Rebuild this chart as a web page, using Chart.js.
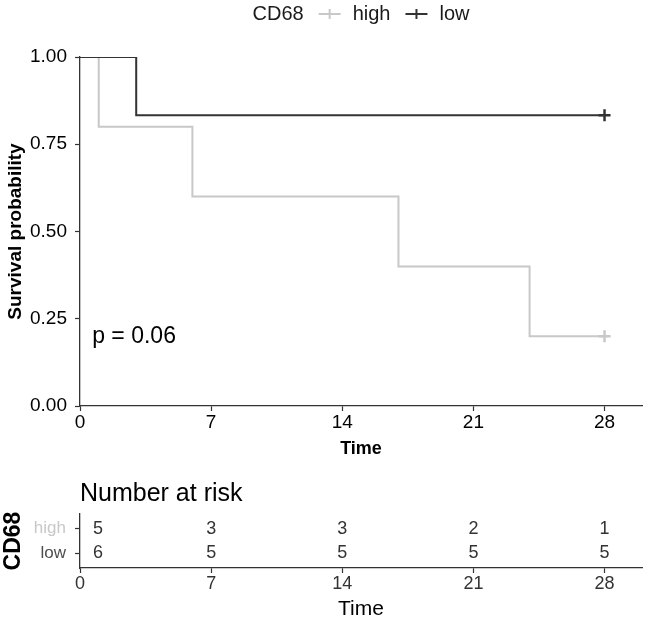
<!DOCTYPE html>
<html>
<head>
<meta charset="utf-8">
<script src="https://cdn.jsdelivr.net/npm/chart.js@4.4.1/dist/chart.umd.min.js"></script>
<style>
  html, body { margin: 0; padding: 0; background: #fff; }
  .box { position: relative; width: 645px; }
  #top { height: 460px; }
  #bottom { height: 165px; }
</style>
</head>
<body>
<div class="box" id="top"><canvas id="km"></canvas></div>
<div class="box" id="bottom"><canvas id="risk"></canvas></div>
<script>
// data
const groups = ['high', 'low'];
const highTimes = [0, 1, 6, 17, 24, 28];
const highSurv = [1, 0.8, 0.6, 0.4, 0.2, 0.2];
const lowTimes = [0, 3, 28];
const lowSurv = [1, 0.833, 0.833];
const censorHighTimes = [28];
const censorHighSurv = [0.2];
const censorLowTimes = [28];
const censorLowSurv = [0.833];
const xTicks = [0, 7, 14, 21, 28];
const yTicks = [0, 0.25, 0.5, 0.75, 1];
const riskTimes = [0, 7, 14, 21, 28];
const riskHigh = [5, 3, 3, 2, 1];
const riskLow = [6, 5, 5, 5, 5];
const pText = 'p = 0.06';

const HIGH_COL = '#c8c8c8';
const LOW_COL = '#333333';
const AXIS_COL = '#333333';
const FAMILY = '"Liberation Sans", Arial, Helvetica, sans-serif';
const X_MAX = 30;

Chart.defaults.font.family = FAMILY;
Chart.defaults.color = '#000';

const pts = (xs, ys) => xs.map((t, i) => ({ x: t, y: ys[i] }));

// legend + p value drawn on the main panel
const kmText = {
  id: 'kmText',
  afterDraw(chart) {
    const ctx = chart.ctx;
    const a = chart.chartArea;
    ctx.save();
    ctx.font = '20px ' + FAMILY;
    ctx.textBaseline = 'middle';
    const items = [
      { text: 'CD68' }, { sym: HIGH_COL }, { text: 'high' }, { sym: LOW_COL }, { text: 'low' }
    ];
    const symW = 22, gapBefore = 15, gapAfter = 12;
    let total = 0;
    items.forEach(it => {
      it.w = it.text ? ctx.measureText(it.text).width : symW;
      total += it.w;
    });
    total += 2 * (gapBefore + gapAfter);
    let x = (a.left + a.right) / 2 - total / 2;
    const y = 14;
    items.forEach(it => {
      if (it.text) {
        ctx.fillStyle = '#1a1a1a';
        ctx.textAlign = 'left';
        ctx.fillText(it.text, x, y);
        x += it.w + gapBefore;
      } else {
        ctx.strokeStyle = it.sym;
        ctx.lineWidth = 2;
        ctx.beginPath();
        ctx.moveTo(x, y); ctx.lineTo(x + symW, y);
        ctx.moveTo(x + symW / 2, y - 5); ctx.lineTo(x + symW / 2, y + 5);
        ctx.stroke();
        x += symW + gapAfter;
      }
    });
    // p value
    const xs = chart.scales.x, ys = chart.scales.y;
    ctx.font = '23px ' + FAMILY;
    ctx.fillStyle = '#000';
    ctx.textAlign = 'left';
    ctx.fillText(pText, xs.getPixelForValue(0.65), ys.getPixelForValue(0.2));
    ctx.restore();
  }
};

new Chart(document.getElementById('km'), {
  type: 'line',
  data: {
    datasets: [
      { label: 'low', data: pts(lowTimes, lowSurv), borderColor: LOW_COL, borderWidth: 2,
        stepped: 'before', pointRadius: 0, fill: false, order: 1 },
      { label: 'high', data: pts(highTimes, highSurv), borderColor: HIGH_COL, borderWidth: 2,
        stepped: 'before', pointRadius: 0, fill: false, order: 2 },
      { label: 'low censor', data: pts(censorLowTimes, censorLowSurv), showLine: false,
        pointStyle: 'cross', pointRadius: 6, pointBorderWidth: 2.5, borderColor: LOW_COL, order: 0 },
      { label: 'high censor', data: pts(censorHighTimes, censorHighSurv), showLine: false,
        pointStyle: 'cross', pointRadius: 6, pointBorderWidth: 2.5, borderColor: HIGH_COL, order: 0 }
    ]
  },
  options: {
    responsive: true,
    maintainAspectRatio: false,
    animation: false,
    layout: { autoPadding: false, padding: { top: 57, right: 3, left: 0, bottom: 0 } },
    plugins: { legend: { display: false }, tooltip: { enabled: false } },
    scales: {
      x: {
        type: 'linear', min: 0, max: X_MAX,
        afterBuildTicks: s => { s.ticks = xTicks.map(v => ({ value: v })); },
        afterFit: s => { s.height = 54; },
        grid: { drawOnChartArea: false, drawTicks: true, tickLength: 5, color: AXIS_COL, tickWidth: 1.2 },
        border: { display: true, color: AXIS_COL, width: 1.3 },
        ticks: { padding: 0, font: { size: 19 }, color: '#000', maxRotation: 0 },
        title: { display: true, text: 'Time', font: { size: 18, weight: 'bold' }, color: '#000',
                 padding: { top: 0, bottom: 0 } }
      },
      y: {
        type: 'linear', min: 0, max: 1,
        afterBuildTicks: s => { s.ticks = yTicks.map(v => ({ value: v })); },
        afterFit: s => { s.width = 80; },
        grid: { drawOnChartArea: false, drawTicks: true, tickLength: 5, color: AXIS_COL, tickWidth: 1.2 },
        border: { display: true, color: AXIS_COL, width: 1.3 },
        ticks: { padding: 8, font: { size: 19 }, color: '#000', callback: v => v.toFixed(2) },
        title: { display: true, text: 'Survival probability', font: { size: 19, weight: 'bold' }, color: '#000',
                 padding: { top: 4, bottom: 0 } }
      }
    }
  },
  plugins: [kmText]
});

// risk table panel
const riskText = {
  id: 'riskText',
  afterDraw(chart) {
    const ctx = chart.ctx;
    const a = chart.chartArea;
    const xs = chart.scales.x, ys = chart.scales.y;
    ctx.save();
    ctx.font = '25px ' + FAMILY;
    ctx.fillStyle = '#000';
    ctx.textAlign = 'left';
    ctx.textBaseline = 'middle';
    ctx.fillText('Number at risk', a.left, 34);
    ctx.font = '18px ' + FAMILY;
    ctx.fillStyle = '#333';
    ctx.textAlign = 'center';
    [riskHigh, riskLow].forEach((row, r) => {
      row.forEach((n, i) => {
        let px = xs.getPixelForValue(riskTimes[i]);
        if (i === 0) px += 18;
        ctx.fillText(String(n), px, ys.getPixelForValue(r + 1));
      });
    });
    ctx.restore();
  }
};

new Chart(document.getElementById('risk'), {
  type: 'line',
  data: { datasets: [] },
  options: {
    responsive: true,
    maintainAspectRatio: false,
    animation: false,
    layout: { autoPadding: false, padding: { top: 54, right: 3, left: 0, bottom: 0 } },
    plugins: { legend: { display: false }, tooltip: { enabled: false } },
    scales: {
      x: {
        type: 'linear', min: 0, max: X_MAX,
        afterBuildTicks: s => { s.ticks = riskTimes.map(v => ({ value: v })); },
        afterFit: s => { s.height = 57; },
        grid: { drawOnChartArea: false, drawTicks: true, tickLength: 5, color: AXIS_COL, tickWidth: 1.2 },
        border: { display: true, color: AXIS_COL, width: 1.3 },
        ticks: { padding: 0, font: { size: 18 }, color: '#333', maxRotation: 0 },
        title: { display: true, text: 'Time', font: { size: 21 }, color: '#000',
                 padding: { top: 0, bottom: 3 } }
      },
      y: {
        type: 'linear', min: 0.4, max: 2.6, reverse: true,
        afterBuildTicks: s => { s.ticks = [1, 2].map(v => ({ value: v })); },
        afterFit: s => { s.width = 80; },
        grid: { drawOnChartArea: false, drawTicks: true, tickLength: 5, color: AXIS_COL, tickWidth: 1.2 },
        border: { display: true, color: AXIS_COL, width: 1.3 },
        ticks: { padding: 9, font: { size: 17 }, callback: v => groups[v - 1],
                 color: c => (c.index === 0 ? HIGH_COL : '#4d4d4d') },
        title: { display: true, text: 'CD68', font: { size: 23, weight: 'bold' }, color: '#000',
                 padding: { top: 0, bottom: 0 } }
      }
    }
  },
  plugins: [riskText]
});
</script>
</body>
</html>
